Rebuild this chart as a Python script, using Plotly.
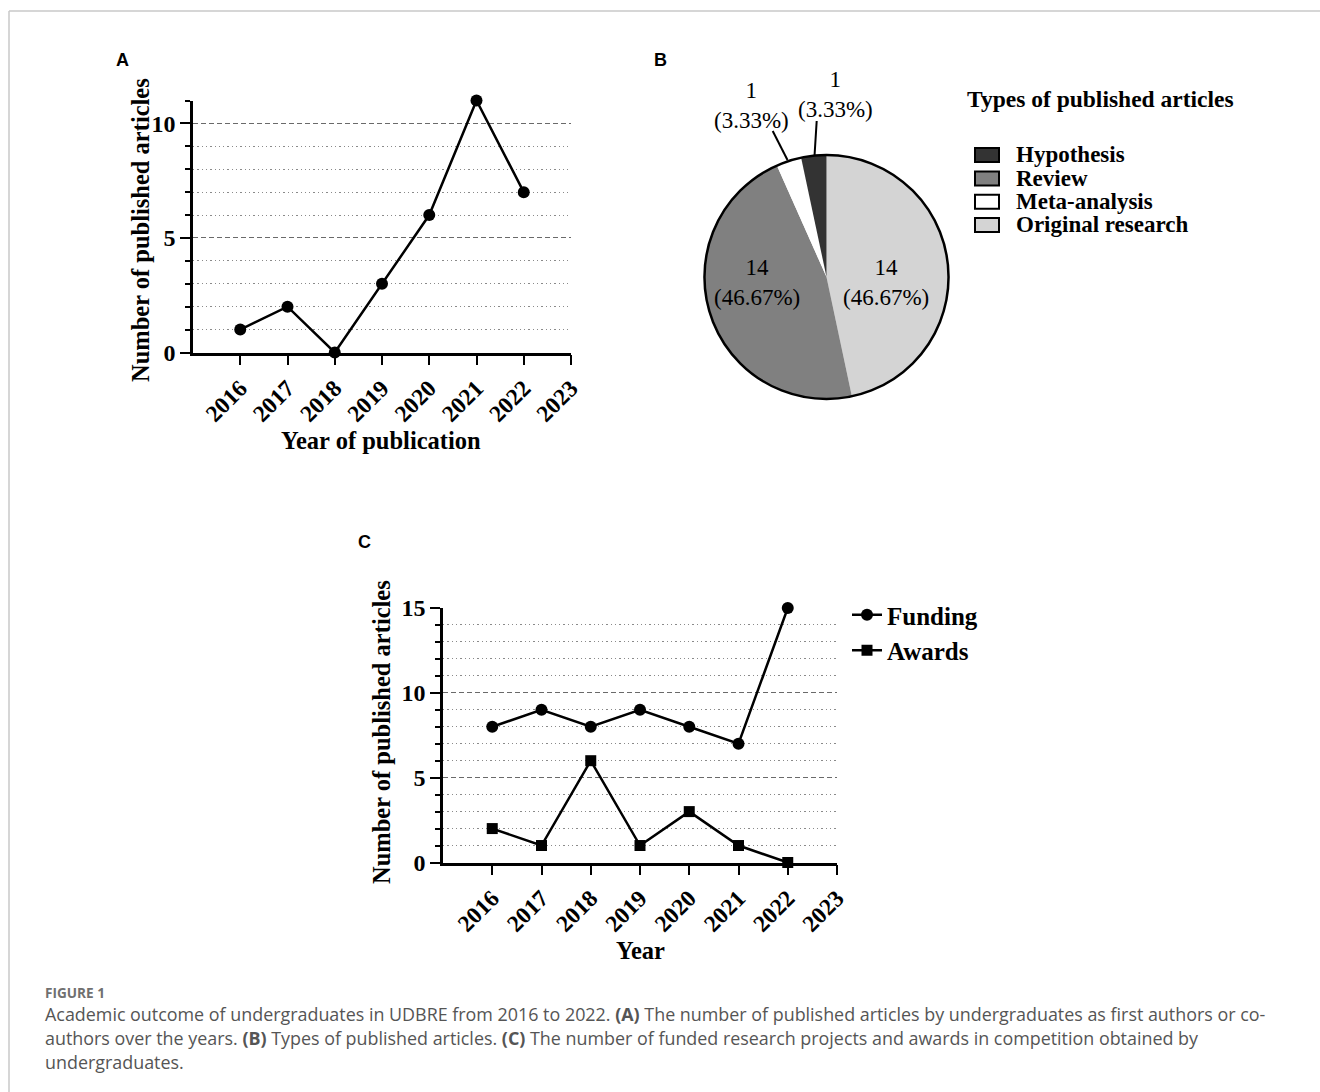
import plotly.graph_objects as go

W, H = 1320, 1092
SERIF = "Liberation Serif, Times New Roman, serif"
SANS = "Open Sans, Lato, sans-serif"

# ---------------- data ----------------
years = [2016, 2017, 2018, 2019, 2020, 2021, 2022]
tick_years = [2016, 2017, 2018, 2019, 2020, 2021, 2022, 2023]
published = [1, 2, 0, 3, 6, 11, 7]

article_types = ["Original research", "Review", "Meta-analysis", "Hypothesis"]
article_counts = [14, 14, 1, 1]
article_colors = ["#d4d4d4", "#808080", "#ffffff", "#333333"]
legend_order = ["Hypothesis", "Review", "Meta-analysis", "Original research"]

funding = [8, 9, 8, 9, 8, 7, 15]
awards = [2, 1, 6, 1, 3, 1, 0]


def px(x):
    return x / W


def py(y):
    return 1 - y / H


fig = go.Figure()

# ---------------- panel A ----------------
fig.add_trace(go.Scatter(
    x=years, y=published, mode="lines+markers",
    line=dict(color="black", width=2.5),
    marker=dict(symbol="circle", size=12, color="black"),
    cliponaxis=False, showlegend=False, xaxis="x", yaxis="y"))

# ---------------- panel C ----------------
fig.add_trace(go.Scatter(
    x=years, y=funding, mode="lines+markers", name="Funding",
    line=dict(color="black", width=2.5),
    marker=dict(symbol="circle", size=12, color="black"),
    cliponaxis=False, xaxis="x2", yaxis="y2"))
fig.add_trace(go.Scatter(
    x=years, y=awards, mode="lines+markers", name="Awards",
    line=dict(color="black", width=2.5),
    marker=dict(symbol="square", size=11, color="black"),
    cliponaxis=False, xaxis="x2", yaxis="y2"))

# ---------------- panel B (pie) ----------------
pie_dom = dict(x=[px(704.5), px(948.5)], y=[py(399), py(155)])
fig.add_trace(go.Pie(
    labels=article_types, values=article_counts, sort=False,
    direction="clockwise", rotation=0,
    marker=dict(colors=article_colors, line=dict(width=0)),
    textinfo="none",
    domain=pie_dom, showlegend=False, hoverinfo="label+value"))
# outer outline
fig.add_trace(go.Pie(
    values=[sum(article_counts)], labels=["all"], sort=False,
    marker=dict(colors=["rgba(0,0,0,0)"], line=dict(width=2.5, color="black")),
    textinfo="none", hoverinfo="skip", domain=pie_dom, showlegend=False))

annotations = []
shapes = []

total = sum(article_counts)


def slice_text(name):
    v = article_counts[article_types.index(name)]
    return f"{v}<br>({v / total:.2%})"


# inside labels for the big slices
for name, (tx, ty) in {"Original research": (886, 282.5), "Review": (757, 282.5)}.items():
    annotations.append(dict(
        x=px(tx), y=py(ty), xref="paper", yref="paper", showarrow=False,
        xanchor="center", yanchor="middle", text=slice_text(name), align="center",
        font=dict(family=SERIF, size=23, color="black")))

# outside labels for the small slices (with leader lines)
small = {"Meta-analysis": (751, 106, (772.7, 131), (787.5, 160)),
         "Hypothesis": (835, 94, (816.7, 121), (814.5, 156))}
for name, (tx, ty, p0, p1) in small.items():
    annotations.append(dict(
        x=px(tx), y=py(ty), xref="paper", yref="paper", showarrow=False,
        xanchor="center", yanchor="middle", text=slice_text(name), align="center",
        font=dict(family=SERIF, size=23, color="black")))
    shapes.append(dict(type="line", xref="paper", yref="paper",
                       x0=px(p0[0]), y0=py(p0[1]), x1=px(p1[0]), y1=py(p1[1]),
                       line=dict(color="black", width=2)))

# legend for pie
annotations.append(dict(x=px(965), y=py(99), xref="paper", yref="paper",
                        xanchor="left", yanchor="middle", showarrow=False,
                        text="<b>Types of published articles</b>",
                        font=dict(family=SERIF, size=23.5, color="black")))
leg_y = [155, 178.5, 201.7, 225]
for name, yy in zip(legend_order, leg_y):
    c = article_colors[article_types.index(name)]
    shapes.append(dict(type="rect", xref="paper", yref="paper",
                       x0=px(975), x1=px(999), y0=py(yy - 7), y1=py(yy + 7),
                       fillcolor=c, line=dict(color="black", width=2)))
    annotations.append(dict(x=px(1014), y=py(yy), xref="paper", yref="paper",
                            xanchor="left", yanchor="middle", showarrow=False,
                            text=f"<b>{name}</b>",
                            font=dict(family=SERIF, size=23, color="black")))

# panel letters
for letter, (lx, ly) in {"A": (122, 60), "B": (660, 60), "C": (364, 542)}.items():
    annotations.append(dict(x=px(lx), y=py(ly), xref="paper", yref="paper",
                            xanchor="center", yanchor="middle",
                            showarrow=False, text=f"<b>{letter}</b>",
                            font=dict(family="Liberation Sans, Arial, sans-serif", size=18, color="black")))


# axis titles
def title(txt, x, y, angle=0):
    annotations.append(dict(x=px(x), y=py(y), xref="paper", yref="paper",
                            xanchor="center", yanchor="middle",
                            showarrow=False, textangle=angle, text=f"<b>{txt}</b>",
                            font=dict(family=SERIF, size=24.5, color="black")))


title("Number of published articles", 140, 230, -90)
title("Year of publication", 381, 440)
title("Number of published articles", 381, 732, -90)
title("Year", 640, 950)

# caption
annotations.append(dict(x=px(43), y=py(992), xref="paper", yref="paper",
                        xanchor="left", yanchor="middle", showarrow=False,
                        text="<b>FIGURE 1</b>",
                        font=dict(family=SANS, size=13.6, color="#707070")))
cap_lines = [
    "Academic outcome of undergraduates in UDBRE from 2016 to 2022. <b>(A)</b> The number of published articles by undergraduates as first authors or co-",
    "authors over the years. <b>(B)</b> Types of published articles. <b>(C)</b> The number of funded research projects and awards in competition obtained by",
    "undergraduates.",
]
for line, yy in zip(cap_lines, [1014, 1038, 1062]):
    annotations.append(dict(x=px(43), y=py(yy), xref="paper", yref="paper",
                            xanchor="left", yanchor="middle", showarrow=False,
                            text=line, font=dict(family=SANS, size=17.9, color="#555555")))

# frame
shapes.append(dict(type="line", xref="paper", yref="paper", x0=px(9), x1=1.0,
                   y0=py(11), y1=py(11), line=dict(color="#c8c8c8", width=1.5)))
shapes.append(dict(type="line", xref="paper", yref="paper", x0=px(9), x1=px(9),
                   y0=py(11), y1=0, line=dict(color="#c8c8c8", width=1.5)))


def xax(domain, anchor):
    return dict(domain=domain, anchor=anchor, range=[2015, 2023],
                tickvals=tick_years, ticktext=[str(t) for t in tick_years],
                tickangle=-45, ticks="outside", ticklen=10, tickwidth=2,
                tickcolor="black", showline=True, linewidth=2.5, linecolor="black",
                showgrid=False, zeroline=False,
                tickfont=dict(family=SERIF, size=23.5, color="black", weight="bold"))


def yax(domain, anchor, rmax):
    return dict(domain=domain, anchor=anchor, range=[0, rmax], tick0=0, dtick=5,
                ticks="outside", ticklen=10, tickwidth=2, tickcolor="black",
                showline=True, linewidth=2.5, linecolor="black", zeroline=False,
                showgrid=True, gridcolor="#6a6a6a", gridwidth=1.3, griddash="5px,3px",
                minor=dict(dtick=1, tick0=0, ticks="outside", ticklen=5, tickwidth=2,
                           tickcolor="black", showgrid=True, gridcolor="#8a8a8a",
                           gridwidth=1.3, griddash="1.3px,3px"),
                tickfont=dict(family=SERIF, size=24, color="black", weight="bold"))


fig.update_layout(
    width=W, height=H, template="none",
    margin=dict(l=0, r=0, t=0, b=0),
    paper_bgcolor="white", plot_bgcolor="rgba(0,0,0,0)",
    xaxis=xax([px(193), px(571)], "y"),
    yaxis=yax([py(352.5), py(100.5)], "x", 11),
    xaxis2=xax([px(443), px(837)], "y2"),
    yaxis2=yax([py(862.5), py(608)], "x2", 15),
    legend=dict(x=px(847), y=py(592), xanchor="left", yanchor="top",
                bgcolor="rgba(0,0,0,0)", borderwidth=0, tracegroupgap=0,
                font=dict(family=SERIF, size=25, color="black", weight="bold")),
    annotations=annotations, shapes=shapes,
    showlegend=True,
)

fig.write_html("out.html", config={"displayModeBar": False},
               post_script="document.body.style.margin='0';")
